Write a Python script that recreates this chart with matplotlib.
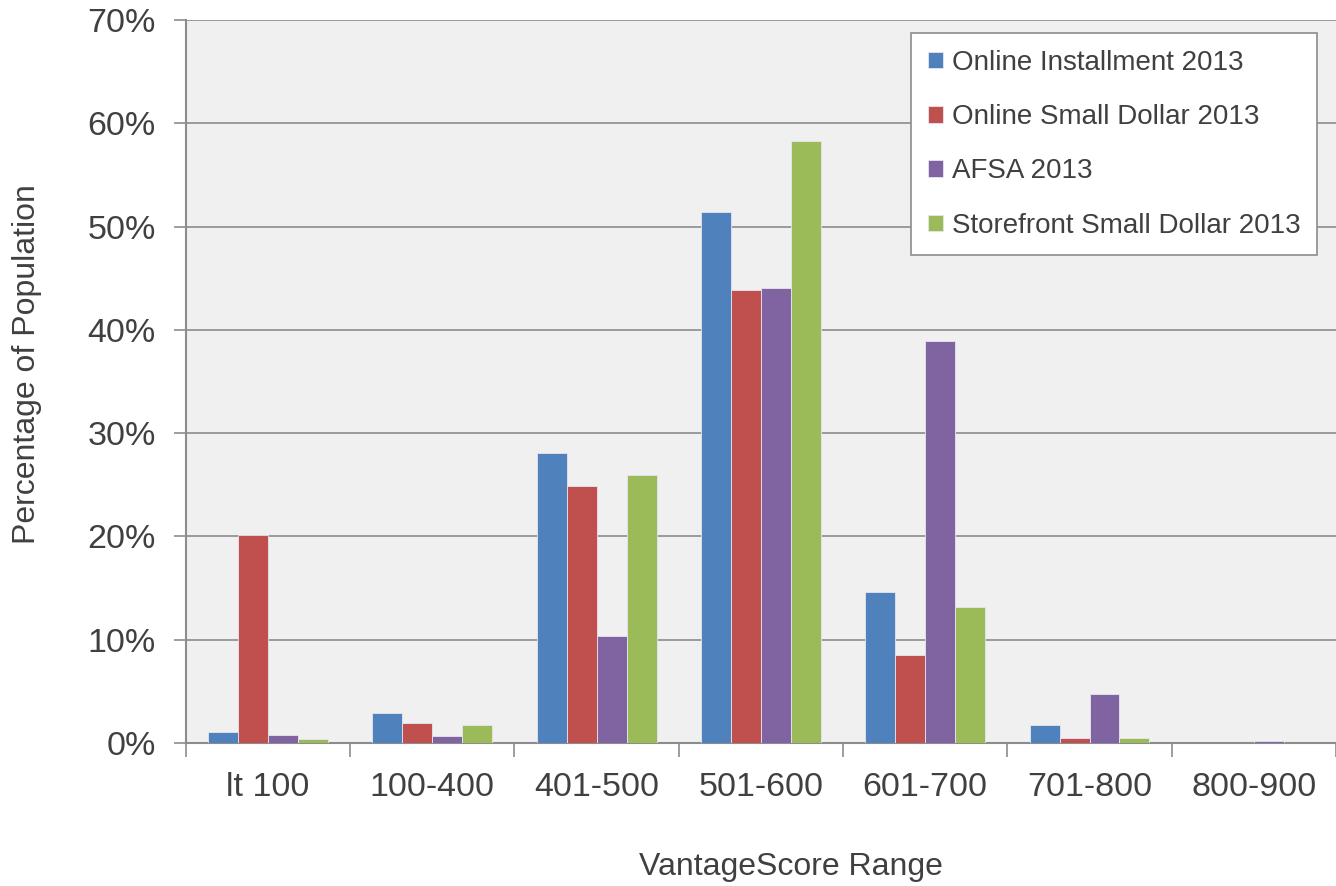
import matplotlib.pyplot as plt
import numpy as np
from matplotlib.ticker import FixedLocator, FuncFormatter

plt.rcParams['font.family'] = ['Liberation Sans', 'DejaVu Sans']

ranges = ['lt 100', '100-400', '401-500', '501-600', '601-700', '701-800', '800-900']
online_installment = [1.1, 2.9, 28.1, 51.4, 14.6, 1.7, 0.0]
online_small_dollar = [20.1, 1.9, 24.9, 43.9, 8.5, 0.5, 0.02]
afsa = [0.8, 0.7, 10.4, 44.1, 38.9, 4.7, 0.2]
storefront_small_dollar = [0.4, 1.7, 25.9, 58.3, 13.2, 0.5, 0.0]

series = [
    ('Online Installment 2013', online_installment, '#4F81BD'),
    ('Online Small Dollar 2013', online_small_dollar, '#C0504D'),
    ('AFSA 2013', afsa, '#8064A2'),
    ('Storefront Small Dollar 2013', storefront_small_dollar, '#9BBB59'),
]

text_color = '#404040'
grid_color = '#8C8C8C'

fig = plt.figure(figsize=(13.36, 8.86), dpi=100)
ax = fig.add_axes([0.139, 0.1614, 0.861, 0.8160])
ax.set_facecolor('#F0F0F0')

x = np.arange(len(ranges))
width = 0.1825
for i, (name, vals, color) in enumerate(series):
    ax.bar(x + (i - 1.5) * width, vals, width, color=color, label=name,
           edgecolor='#E6E6F0', linewidth=0.6, zorder=3)

ax.set_xlim(-0.5, len(ranges) - 0.5)
ax.set_ylim(0, 70)
ax.set_yticks(np.arange(0, 71, 10))
ax.yaxis.set_major_formatter(FuncFormatter(lambda v, p: f'{v:.0f}%'))
ax.grid(axis='y', color=grid_color, linewidth=1.2, zorder=1)
ax.set_axisbelow(True)

# category labels centered, tick marks between categories
ax.set_xticks(x)
ax.set_xticklabels(ranges)
ax.tick_params(axis='x', length=0, pad=21, labelsize=24.5, labelcolor=text_color)
ax.xaxis.set_minor_locator(FixedLocator(np.arange(-0.5, len(ranges), 1.0)))
ax.tick_params(axis='x', which='minor', length=10, width=1.2, color=grid_color)
ax.tick_params(axis='y', length=9, width=1.2, color=grid_color, pad=12.5,
               labelsize=24.5, labelcolor=text_color)

for side in ['top', 'right']:
    ax.spines[side].set_visible(False)
for side in ['left', 'bottom']:
    ax.spines[side].set_color(grid_color)
    ax.spines[side].set_linewidth(1.5)

ax.set_xlabel('VantageScore Range', fontsize=23, color=text_color)
ax.set_ylabel('Percentage of Population', fontsize=23, color=text_color)
ax.xaxis.set_label_coords(0.526, -0.1508)
ax.yaxis.set_label_coords(-0.1252, 0.524)

leg = ax.legend(loc='upper right', bbox_to_anchor=(0.9835, 0.982), fontsize=20,
                frameon=True, fancybox=False, handlelength=0.55, handleheight=0.55,
                handletextpad=0.3, labelspacing=1.02, borderpad=0.6,
                borderaxespad=0, labelcolor=text_color)
leg.get_frame().set_edgecolor('#8C8C8C')
leg.get_frame().set_linewidth(1.2)
leg.get_frame().set_facecolor('white')
leg.get_frame().set_alpha(1)

fig.savefig('out.png', dpi=100)
